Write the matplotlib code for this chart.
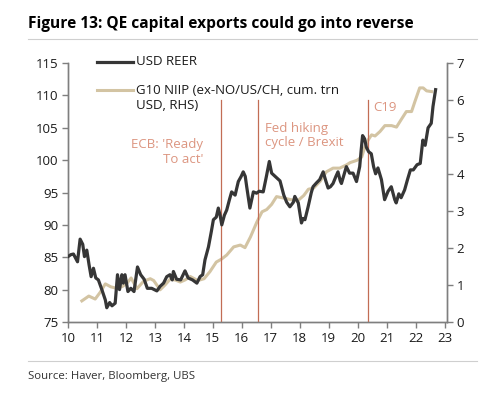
import matplotlib
matplotlib.use("Agg")
import matplotlib.pyplot as plt
from matplotlib.lines import Line2D

plt.rcParams['font.family'] = ['Open Sans', 'DejaVu Sans']

# USD REER (LHS), decimal year -> index
reer_t = [10.00, 10.10, 10.19, 10.27, 10.33, 10.42, 10.51, 10.57, 10.65, 10.73,
          10.80, 10.88, 10.96, 11.05, 11.17, 11.29, 11.34, 11.44, 11.52, 11.63,
          11.71, 11.78, 11.86, 11.91, 11.97, 12.07, 12.17, 12.28, 12.40, 12.51,
          12.63, 12.74, 12.89, 13.07, 13.18, 13.30, 13.41, 13.52, 13.60, 13.64,
          13.75, 13.89, 14.04, 14.15, 14.30, 14.45, 14.56, 14.65, 14.73, 14.85,
          14.95, 15.02, 15.12, 15.19, 15.25, 15.31, 15.40, 15.48, 15.58, 15.65,
          15.77, 15.88, 15.98, 16.05, 16.12, 16.17, 16.28, 16.40, 16.51, 16.60,
          16.74, 16.85, 16.95, 17.03, 17.15, 17.32, 17.45, 17.55, 17.66, 17.78,
          17.83, 17.95, 18.06, 18.12, 18.18, 18.29, 18.40, 18.46, 18.58, 18.69,
          18.81, 18.90, 18.98, 19.06, 19.15, 19.25, 19.32, 19.40, 19.44, 19.53,
          19.61, 19.72, 19.84, 19.96, 20.07, 20.12, 20.17, 20.24, 20.30, 20.38,
          20.47, 20.55, 20.62, 20.70, 20.82, 20.93, 21.05, 21.16, 21.28, 21.33,
          21.42, 21.50, 21.62, 21.72, 21.82, 21.92, 22.05, 22.16, 22.25, 22.33,
          22.43, 22.54, 22.60, 22.69]
reer_v = [85.1, 85.4, 85.5, 84.8, 84.3, 87.8, 87.0, 85.1, 86.1, 83.8,
          82.0, 83.3, 81.8, 81.5, 80.0, 78.4, 77.2, 78.0, 77.5, 77.9,
          82.3, 80.0, 82.3, 81.0, 82.3, 79.7, 80.2, 79.7, 83.5, 82.3,
          81.6, 80.2, 80.2, 79.8, 80.5, 81.0, 82.0, 82.3, 81.5, 82.8,
          81.6, 81.5, 82.9, 81.8, 81.5, 81.0, 82.0, 82.3, 84.6, 86.6,
          89.0, 90.8, 91.2, 92.6, 91.5, 90.0, 91.5, 92.3, 94.0, 95.1,
          94.6, 96.7, 97.5, 98.2, 97.5, 95.9, 92.6, 95.1, 94.9, 95.2,
          95.1, 97.5, 99.8, 98.0, 97.5, 96.8, 94.6, 93.5, 92.8, 93.5,
          94.4, 93.4, 90.3, 91.0, 90.8, 92.8, 95.0, 95.9, 96.5, 97.0,
          98.2, 96.8, 95.7, 95.9, 96.4, 97.5, 98.2, 96.8, 96.4, 97.8,
          99.0, 98.0, 98.0, 96.7, 99.0, 101.5, 103.8, 103.3, 102.0, 101.3,
          101.0, 99.0, 97.9, 98.8, 97.0, 93.9, 95.2, 95.9, 93.9, 93.4,
          94.8, 94.2, 95.4, 97.0, 98.5, 98.5, 99.3, 99.5, 103.1, 102.3,
          105.0, 105.7, 108.3, 110.9]

# G10 NIIP ex-NO/US/CH, cum. USD trn (RHS)
niip_t = [10.48, 10.72, 10.94, 11.11, 11.29, 11.48, 11.68, 11.88, 12.05, 12.18,
          12.38, 12.61, 12.84, 12.96, 13.18, 13.35, 13.53, 13.72, 13.88, 14.05,
          14.22, 14.48, 14.70, 14.90, 15.12, 15.30, 15.48, 15.72, 15.95, 16.11,
          16.30, 16.52, 16.70, 16.86, 17.03, 17.20, 17.45, 17.68, 17.92, 18.14,
          18.30, 18.48, 18.70, 18.92, 19.15, 19.38, 19.62, 19.74, 19.97, 20.14,
          20.26, 20.37, 20.48, 20.60, 20.77, 20.94, 21.17, 21.34, 21.50, 21.68,
          21.86, 21.98, 22.14, 22.26, 22.38, 22.55]
niip_v = [0.57, 0.70, 0.62, 0.80, 1.03, 0.95, 0.91, 0.96, 1.06, 1.19,
          0.90, 1.10, 1.17, 1.12, 0.87, 1.00, 1.16, 1.13, 1.08, 1.14,
          1.23, 1.12, 1.17, 1.36, 1.62, 1.70, 1.81, 2.03, 2.08, 2.01,
          2.30, 2.70, 2.98, 3.04, 3.18, 3.39, 3.35, 3.31, 3.27, 3.42,
          3.59, 3.62, 3.80, 4.06, 4.16, 4.16, 4.25, 4.31, 4.37, 4.46,
          4.76, 4.93, 5.06, 5.03, 5.15, 5.31, 5.31, 5.27, 5.47, 5.69,
          5.69, 5.97, 6.33, 6.33, 6.25, 6.23]

events = [15.27, 16.55, 20.35]
event_labels = ["ECB: 'Ready\nTo act'", "Fed hiking\ncycle / Brexit", "C19"]
xticks = list(range(10, 24))

BLACK = "#363636"
TAN = "#d3c4a3"
RED = "#c26d55"
SALMON = "#dc9580"
AXIS = "#7f7f7f"

fig = plt.figure(figsize=(4.96, 3.97), dpi=100)
ax = fig.add_axes([0.137, 0.189, 0.764, 0.652])
ax2 = ax.twinx()

for e in events:
    ax.axvline(e, ymin=0.0, ymax=0.858, color=RED, lw=0.9, zorder=1)

ax2.plot(niip_t, niip_v, color=TAN, lw=2.2, zorder=2)
ax.plot(reer_t, reer_v, color=BLACK, lw=2.3, zorder=3)
ax.set_zorder(ax2.get_zorder() + 1)
ax.patch.set_visible(False)

ax.set_xlim(10, 23.08)
ax.set_ylim(75, 115)
ax2.set_ylim(0, 7)
ax.set_xticks(xticks)
ax.set_xticklabels([str(x) for x in xticks])
ax.set_yticks(range(75, 116, 5))
ax2.set_yticks(range(0, 8))

for a in (ax, ax2):
    a.spines['top'].set_visible(False)
    for s in ('left', 'right', 'bottom'):
        a.spines[s].set_color(AXIS)
        a.spines[s].set_linewidth(1.0)
    a.tick_params(colors=AXIS, labelcolor="#1a1a1a", labelsize=9.5,
                  length=4, width=1.0, direction='out', pad=3)

# annotations
ax.text(14.66, 101.3, event_labels[0], color=SALMON, fontsize=9.5,
        ha='right', va='center', multialignment='right', linespacing=1.15)
ax.text(16.8, 103.8, event_labels[1], color=SALMON, fontsize=9.5,
        ha='left', va='center', linespacing=1.15)
ax.text(20.53, 108.1, event_labels[2], color=SALMON, fontsize=9.5,
        ha='left', va='center')

# legend drawn by hand so the tan key sits beside the first text line
fig.add_artist(Line2D([97 / 496, 133 / 496], [1 - 61.7 / 397] * 2,
                      color=BLACK, lw=2.3))
fig.text(136 / 496, 1 - 61.7 / 397, "USD REER", fontsize=9.5,
         va='center', color="#1a1a1a")
fig.add_artist(Line2D([97 / 496, 133 / 496], [1 - 90 / 397] * 2,
                      color=TAN, lw=2.2))
fig.text(136 / 496, 1 - 90 / 397, "G10 NIIP (ex-NO/US/CH, cum. trn",
         fontsize=9.5, va='center', color="#1a1a1a")
fig.text(136 / 496, 1 - 106 / 397, "USD, RHS)",
         fontsize=9.5, va='center', color="#1a1a1a")

# title, rules and source
fig.text(28 / 496, 1 - 24 / 397, "Figure 13: QE capital exports could go into reverse",
         fontsize=11.2, fontweight='bold', va='center', color="#000000")
fig.add_artist(Line2D([28 / 496, 477 / 496], [1 - 39 / 397] * 2,
                      color="#cfcfcf", lw=0.8))
fig.add_artist(Line2D([28 / 496, 477 / 496], [1 - 361 / 397] * 2,
                      color="#cfcfcf", lw=0.8))
fig.text(28 / 496, 1 - 376 / 397, "Source: Haver, Bloomberg, UBS",
         fontsize=8.2, va='center', color="#333333")

fig.savefig("out.png", dpi=100)
